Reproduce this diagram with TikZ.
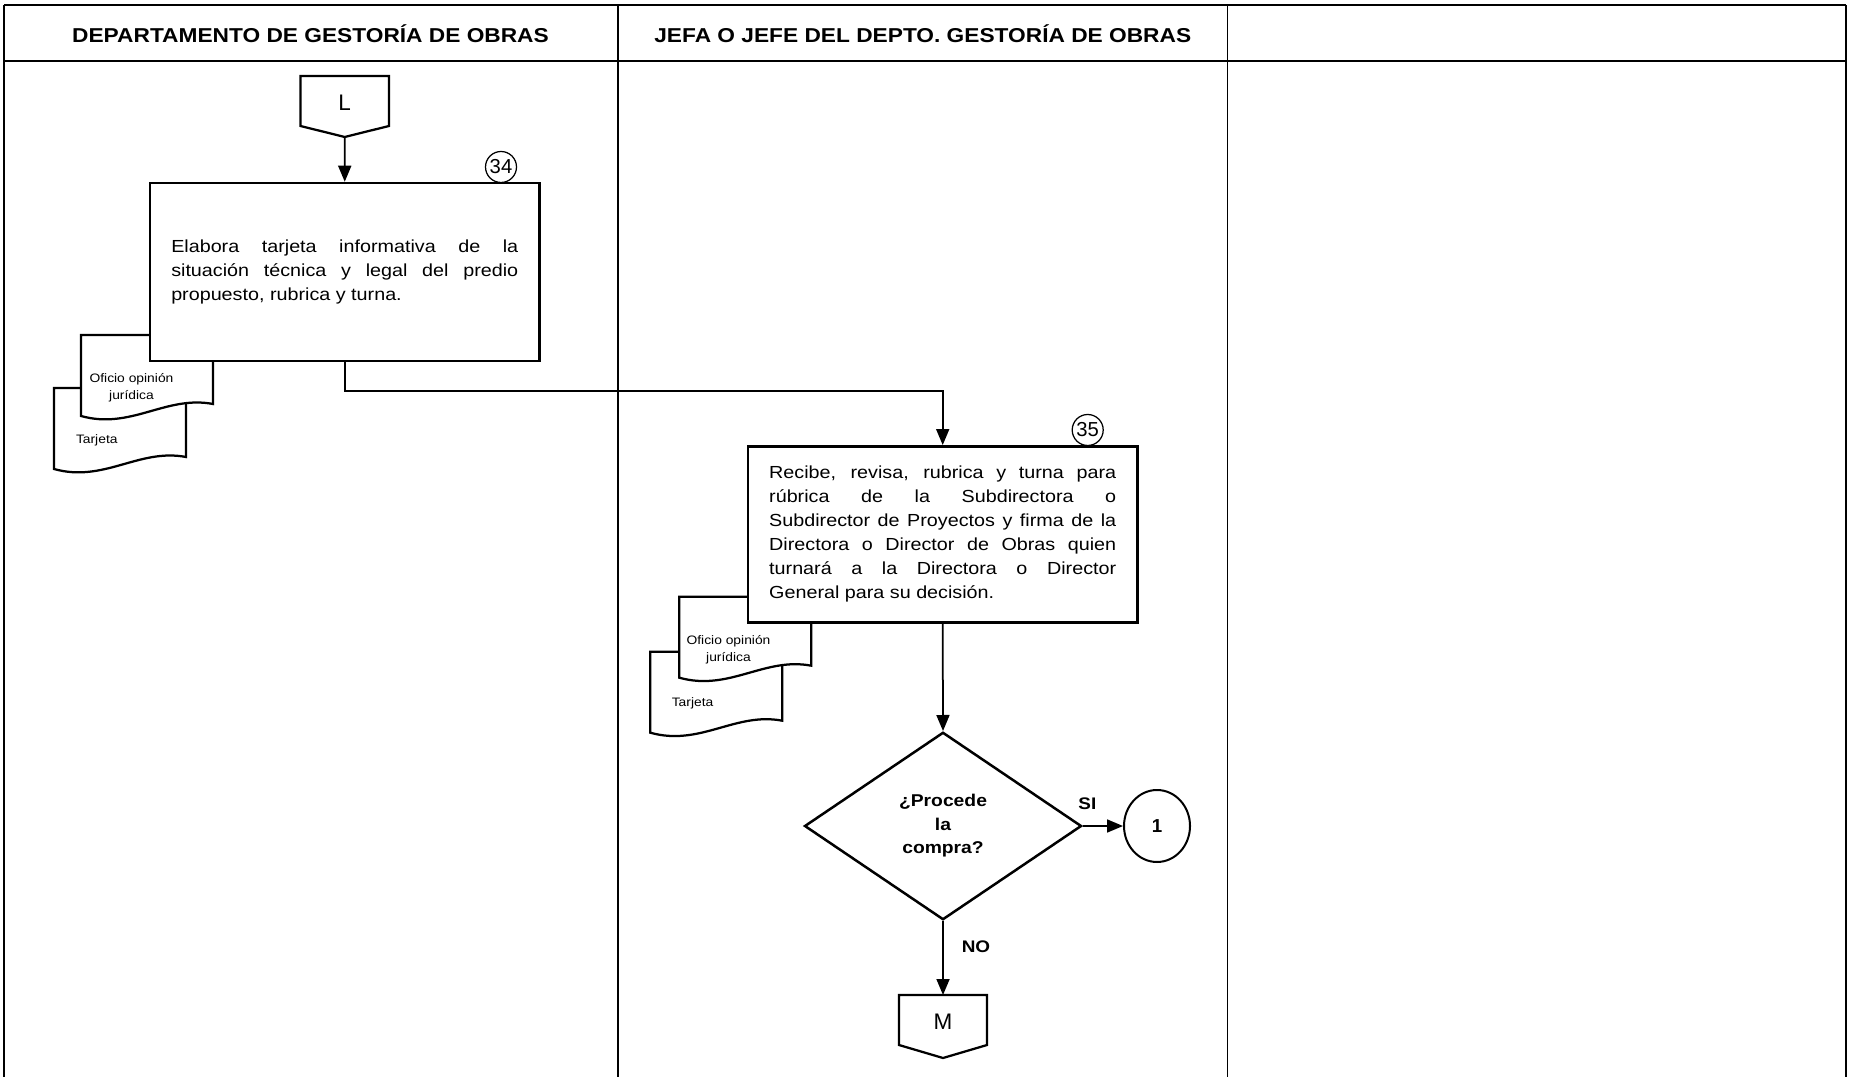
\documentclass[tikz,border=0pt]{standalone}
\usepackage{fontspec}
\setmainfont{Liberation Sans}[FakeStretch=1.13]
\newfontfamily\plainsans{Liberation Sans}
\usetikzlibrary{arrows.meta,shapes.geometric,calc}

\tikzset{
  hline/.style={line width=0.9pt},
  vline/.style={line width=0.6pt},
  hdr/.style={font=\bfseries\fontsize{8.04}{10}\selectfont,inner sep=0pt},
  flow/.style={line width=0.7pt,-{Triangle[length=6.4pt,width=5.2pt]}},
  taskbox/.style={draw,line width=1pt,fill=white,text width=138.8pt,
    inner xsep=8.5pt,inner ysep=0pt,align=justify,
    font=\fontsize{6.99}{9.6}\selectfont},
  stepnum/.style={draw,circle,line width=0.5pt,inner sep=0pt,minimum size=12.4pt,
    font=\plainsans\fontsize{8.1}{9}\selectfont},
  connshape/.style={draw,line width=0.9pt,fill=white},
  conntext/.style={inner sep=0pt,font=\plainsans\fontsize{9}{10}\selectfont},
  doctext/.style={inner sep=0pt,font=\fontsize{4.9}{6.7}\selectfont},
  decision/.style={draw,diamond,line width=1pt,inner sep=0pt,
    minimum width=110.8pt,minimum height=75pt,align=center,
    font=\bfseries\fontsize{6.83}{9.4}\selectfont},
  lbl/.style={inner sep=0pt,font=\bfseries\fontsize{6.7}{8}\selectfont},
  docsheet/.pic={
    \draw[line width=0.9pt,fill=white] (0,0) -- (132,0) -- (132,69)
      .. controls (85,60) and (50,95) .. (0,81) -- cycle;
  }
}

\begin{document}
\begin{tikzpicture}[x=0.4pt,y=-0.4pt]
\useasboundingbox (0,0) rectangle (1850,1077);

% swimlane frame
\draw[hline] (4,5) -- (1846,5);
\draw[hline] (4,61) -- (1846,61);
\draw[vline] (4,5) -- (4,1077);
\draw[vline] (618,5) -- (618,1077);
\draw[vline] (1227.5,5) -- (1227.5,1077);
\draw[vline] (1846,5) -- (1846,1077);

\node[hdr,anchor=base] (h1) at (310.5,42.5) {DEPARTAMENTO DE GESTORÍA DE OBRAS};
\node[hdr,anchor=base] (h2) at (922.75,42.5) {JEFA O JEFE DEL DEPTO. GESTORÍA DE OBRAS};

% off-page connector L
\draw[connshape] (300.5,76) -- (389,76) -- (389,126) -- (344.7,137) -- (300.5,126) -- cycle;
\coordinate (Ltip) at (344.7,137);
\node[conntext] (L) at (344.7,103) {L};

% documents of step 34
\pic at (54,388) {docsheet};
\node[doctext,anchor=west] (t1) at (75.5,440.5) {Tarjeta};
\pic at (81,335) {docsheet};
\node[doctext,align=center] (o1) at (131.5,387.8) {Oficio opinión\\jurídica};

% step 34
\node[taskbox,minimum height=71.2pt] (b34) at (344.75,272)
  {Elabora tarjeta informativa de la\linebreak situación técnica y legal del predio\linebreak propuesto, rubrica y turna.};
\node[stepnum] (n34) at (501,167) {34};

\draw[flow] (Ltip) -- (b34.north);

% documents of step 35
\pic at (650.3,651.7) {docsheet};
\node[doctext,anchor=west] (t2) at (671.3,703.8) {Tarjeta};
\pic at (679.3,596.7) {docsheet};
\node[doctext,align=center] (o2) at (728.5,649.6) {Oficio opinión\\jurídica};

% step 35
\node[taskbox,minimum height=70.4pt] (b35) at (942.7,534.3)
  {Recibe, revisa, rubrica y turna para\linebreak rúbrica de la Subdirectora o\linebreak Subdirector de Proyectos y firma de la\linebreak Directora o Director de Obras quien\linebreak turnará a la Directora o Director\linebreak General para su decisión.};
\node[stepnum] (n35) at (1087.7,430) {35};

\draw[flow] (b34.south) -- ++(0,29) -| (b35.north);

% decision
\node[decision] (dec) at (943,826) {¿Procede\\la\\compra?};
\draw[flow] (b35.south) -- (dec.north);

\node[draw,ellipse,line width=0.8pt,minimum width=26.4pt,minimum height=28.8pt,inner sep=0pt,
  font=\plainsans\bfseries\fontsize{7.5}{9}\selectfont] (c1) at (1157,826) {1};
\draw[flow] (dec.east) -- (c1.west);
\node[lbl] (si) at (1087.3,803.3) {SI};

% off-page connector M
\draw[connshape] (899,995) -- (987,995) -- (987,1045) -- (943,1058) -- (899,1045) -- cycle;
\coordinate (Mtop) at (943,995);
\node[conntext] (M) at (943,1021.7) {M};
\draw[flow] (dec.south) -- (Mtop);
\node[lbl] (no) at (976,946.7) {NO};

\end{tikzpicture}
\end{document}
